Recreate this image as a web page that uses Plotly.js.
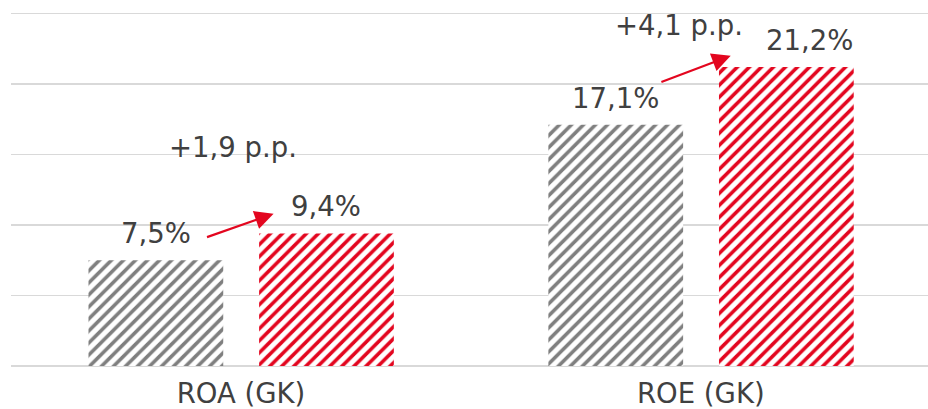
<!DOCTYPE html>
<html>
<head>
<meta charset="utf-8">
<script src="https://cdn.plot.ly/plotly-3.0.1.min.js"></script>
<style>html,body{margin:0;padding:0;background:#fff;}#chart{width:928px;height:409px;}</style>
</head>
<body>
<div id="chart"></div>
<script>
// Data
var categories = ["ROA (GK)", "ROE (GK)"];
var previousValues = [7.5, 17.1];   // gray bars
var currentValues = [9.4, 21.2];    // red bars

var GRAY = "#7f7f7f";
var RED = "#e3061f";
var TEXT = "#404040";
var FONT = "DejaVu Sans, Verdana, sans-serif";
var FS = 27.5;

function fmt(v) { return v.toFixed(1).replace(".", ","); }

var barWidth = 0.293;
var grayOffset = -0.3315;
var redOffset = 0.0395;

function stripe(color) {
  return { shape: "/", fgcolor: color, bgcolor: "#ffffff", size: 8.5, solidity: 0.42, fillmode: "replace" };
}

var traces = [
  {
    type: "bar", x: categories, y: previousValues,
    width: barWidth, offset: grayOffset,
    marker: { color: "#ffffff", pattern: stripe(GRAY), line: { width: 0 } },
    hoverinfo: "none"
  },
  {
    type: "bar", x: categories, y: currentValues,
    width: barWidth, offset: redOffset,
    marker: { color: "#ffffff", pattern: stripe(RED), line: { width: 0 } },
    hoverinfo: "none"
  }
];

var annotations = [];
var grayCenter = grayOffset + barWidth / 2;
var redCenter = redOffset + barWidth / 2;
var redLabelExtra = [0, 23];
var diffLabelY = [15.5, 24.2];
var diffLabelShift = [-8, -22];
var arrowStartY = [1.6, 3.0];
var arrowTipY = [1.4, 0.8];

categories.forEach(function (c, i) {
  annotations.push({
    x: i + grayCenter, y: previousValues[i], xref: "x", yref: "y",
    text: fmt(previousValues[i]) + "%", showarrow: false,
    yanchor: "middle", yshift: 27,
    font: { family: FONT, size: FS, color: TEXT }
  });
  annotations.push({
    x: i + redCenter, y: currentValues[i], xref: "x", yref: "y",
    text: fmt(currentValues[i]) + "%", showarrow: false,
    yanchor: "middle", yshift: 27, xshift: redLabelExtra[i],
    font: { family: FONT, size: FS, color: TEXT }
  });
  var diff = currentValues[i] - previousValues[i];
  annotations.push({
    x: i, y: diffLabelY[i], xref: "x", yref: "y",
    text: "+" + fmt(diff) + " p.p.", showarrow: false,
    yanchor: "middle", xshift: diffLabelShift[i],
    font: { family: FONT, size: FS, color: TEXT }
  });
  annotations.push({
    x: i + (i === 0 ? 0.071 : 0.065), y: currentValues[i] + arrowTipY[i],
    ax: i + (i === 0 ? -0.077 : -0.089), ay: previousValues[i] + arrowStartY[i],
    xref: "x", yref: "y", axref: "x", ayref: "y",
    text: "", showarrow: true, arrowhead: 2, arrowsize: 1.7, arrowwidth: 2.2,
    arrowcolor: RED, standoff: 0, startstandoff: 0
  });
});

var layout = {
  width: 928, height: 409,
  margin: { l: 11, r: 0, t: 12, b: 43, pad: 0 },
  paper_bgcolor: "#ffffff", plot_bgcolor: "#ffffff",
  showlegend: false,
  barmode: "group",
  xaxis: {
    type: "category", range: [-0.5, 1.494],
    showgrid: false, zeroline: false, showline: false, ticks: "",
    ticklabelstandoff: 8,
    tickfont: { family: FONT, size: FS, color: TEXT },
    fixedrange: true
  },
  yaxis: {
    range: [0, 25.1], dtick: 5, tick0: 0,
    showgrid: true, gridcolor: "#d9d9d9", gridwidth: 1.5,
    zeroline: true, zerolinecolor: "#d9d9d9", zerolinewidth: 1.5,
    showticklabels: false, ticks: "", showline: false,
    fixedrange: true
  },
  annotations: annotations
};

Plotly.newPlot("chart", traces, layout, { staticPlot: true, displayModeBar: false });
</script>
</body>
</html>
